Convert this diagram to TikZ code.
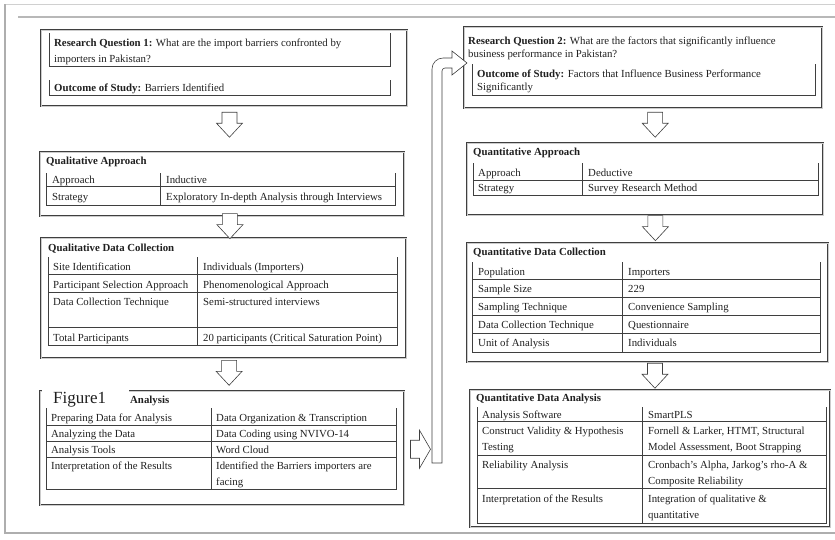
\documentclass[tikz,border=0pt]{standalone}
\usepackage{fontspec}
\setmainfont{Liberation Serif}
\usetikzlibrary{calc,positioning}
\definecolor{Ink}{HTML}{1F1F1F}
\definecolor{Rule}{HTML}{3F3F3F}
\definecolor{Frame}{HTML}{9A9A9A}
\definecolor{Edge}{HTML}{D0D0D0}
\newcommand{\twoline}[1]{\begin{tabular}[t]{@{}l@{}}#1\end{tabular}}

\begin{document}
\begin{tikzpicture}[x=1pt,y=-1pt,
    font=\fontsize{10.8}{16.5}\selectfont,
    panel/.style={draw=Rule,double=Frame!50,double distance=0.9pt,line width=0.5pt,
      anchor=north west,inner sep=0pt},
    tabline/.style={draw=Rule,line width=0.6pt},
    cell/.style={anchor=base west,inner sep=0pt,text=Ink},
    heading/.style={cell,font=\fontsize{10.8}{16.5}\selectfont\bfseries},
    hollow/.style={draw=Rule,fill=white,line width=0.6pt},
    hollowdown/.pic={\draw[hollow] (-7.5,-12.5) -- (7.5,-12.5) -- (7.5,-1.5) -- (13,-1.5)
      -- (0,12.5) -- (-13,-1.5) -- (-7.5,-1.5) -- cycle;},
    hollowright/.pic={\draw[hollow] (-10,-9) -- (-1,-9) -- (-1,-19) -- (10,0)
      -- (-1,19) -- (-1,9) -- (-10,9) -- cycle;}
  ]
  \useasboundingbox (0,0) rectangle (835,539);
  % page frame
  \draw[Edge,line width=0.8pt] (5,4) -- (835,4);
  \draw[Frame!70,line width=1.6pt] (18,17) -- (835,17);
  \draw[Frame!80,line width=1.2pt] (5,4) -- (5,533) -- (835,533);

  % qualitative column
  \node[panel,minimum width=366pt,minimum height=76pt] (l1) at (41,30) {};
  \node[panel,minimum width=364pt,minimum height=64pt] (l2) at (40,152) {};
  \node[panel,minimum width=365pt,minimum height=120pt] (l3) at (41,238) {};
  \node[panel,minimum width=364pt,minimum height=114pt] (l4) at (40,391) {};

  \draw[tabline] (49,33) -- (49,66) -- (390,66) -- (390,33);
  \draw[tabline] (49,80) -- (49,95) -- (390,95) -- (390,80);
  \node[cell] (q1) at (54,46) {\twoline{\textbf{Research Question 1:} What are the import barriers confronted by\\importers in Pakistan?}};
  \node[cell] (o1) at (54,91) {\textbf{Outcome of Study:} Barriers Identified};

  \node[heading] (l2h) at (46,164) {Qualitative Approach};
  \draw[tabline] (46,173) -- (46,205) -- (395,205) -- (395,173) (160,173) -- (160,205) (46,186) -- (395,186);
  \foreach \y/\a/\b in {183/Approach/Inductive,200/Strategy/Exploratory In-depth Analysis through Interviews}{
    \node[cell] (l2a\y) at (52,\y) {\a};
    \node[cell] (l2b\y) at (166,\y) {\b};
  }

  \node[heading] (l3h) at (48,251) {Qualitative Data Collection};
  \draw[tabline] (48,257) -- (48,345) -- (397,345) -- (397,257) (197,257) -- (197,345);
  \foreach \y in {274,292,327}\draw[tabline] (48,\y) -- (397,\y);
  \foreach \y/\a/\b in {270/Site Identification/Individuals (Importers),
      288/Participant Selection Approach/Phenomenological Approach,
      305/Data Collection Technique/Semi-structured interviews,
      341/Total Participants/20 participants (Critical Saturation Point)}{
    \node[cell] (l3a\y) at (53,\y) {\a};
    \node[cell] (l3b\y) at (203,\y) {\b};
  }

  \node[fill=white,anchor=north west,inner sep=0pt,minimum width=87pt,minimum height=22pt] (cover) at (42,385) {};
  \node[cell,font=\fontsize{17}{17}\selectfont] (fig) at (53,403) {Figure1};
  \node[heading] (l4h) at (130,403) {Analysis};
  \draw[tabline] (46,408) -- (46,489) -- (396,489) -- (396,408) (211,408) -- (211,489);
  \foreach \y in {425,441,457}\draw[tabline] (46,\y) -- (396,\y);
  \foreach \y/\a/\b in {421/Preparing Data for Analysis/Data Organization \& Transcription,
      437/Analyzing the Data/Data Coding using NVIVO-14,
      453/Analysis Tools/Word Cloud,
      469/Interpretation of the Results/{\twoline{Identified the Barriers importers are\\facing}}}{
    \node[cell] (l4a\y) at (51,\y) {\a};
    \node[cell] (l4b\y) at (216,\y) {\b};
  }

  % quantitative column
  \node[panel,minimum width=358pt,minimum height=81pt] (r1) at (464,27) {};
  \node[panel,minimum width=356pt,minimum height=72pt] (r2) at (467,143) {};
  \node[panel,minimum width=361pt,minimum height=119pt] (r3) at (467,243) {};
  \node[panel,minimum width=360pt,minimum height=137pt] (r4) at (470,390) {};

  \node[cell] (q2) at (468,44) {\twoline{\textbf{Research Question 2:} What are the factors that significantly influence\\[-3pt]business performance in Pakistan?}};
  \draw[tabline] (472,64) -- (472,95) -- (815,95) -- (815,64);
  \node[cell] (o2) at (477,77) {\twoline{\textbf{Outcome of Study:} Factors that Influence Business Performance\\[-3pt]Significantly}};

  \node[heading] (r2h) at (473,155) {Quantitative Approach};
  \draw[tabline] (473,163) -- (473,195) -- (818,195) -- (818,163) (582,163) -- (582,195) (473,180) -- (818,180);
  \foreach \y/\a/\b in {176/Approach/Deductive,191/Strategy/Survey Research Method}{
    \node[cell] (r2a\y) at (478,\y) {\a};
    \node[cell] (r2b\y) at (588,\y) {\b};
  }

  \node[heading] (r3h) at (473,255) {Quantitative Data Collection};
  \draw[tabline] (472,262) -- (472,352) -- (820,352) -- (820,262) (622,262) -- (622,352);
  \foreach \y in {279,297,315,333}\draw[tabline] (472,\y) -- (820,\y);
  \foreach \y/\a/\b in {275/Population/Importers,292/Sample Size/229,
      310/Sampling Technique/Convenience Sampling,
      328/Data Collection Technique/Questionnaire,346/Unit of Analysis/Individuals}{
    \node[cell] (r3a\y) at (478,\y) {\a};
    \node[cell] (r3b\y) at (628,\y) {\b};
  }

  \node[heading] (r4h) at (476,401) {Quantitative Data Analysis};
  \draw[tabline] (477,407) -- (477,523) -- (826,523) -- (826,407) (642,407) -- (642,523);
  \foreach \y in {421,455,488}\draw[tabline] (477,\y) -- (826,\y);
  \foreach \y/\a/\b in {418/Analysis Software/SmartPLS,
      434/{\twoline{Construct Validity \& Hypothesis\\Testing}}/{\twoline{Fornell \& Larker, HTMT, Structural\\Model Assessment, Boot Strapping}},
      468/Reliability Analysis/{\twoline{Cronbach's Alpha, Jarkog's rho-A \&\\Composite Reliability}},
      502/Interpretation of the Results/{\twoline{Integration of qualitative \&\\quantitative}}}{
    \node[cell] (r4a\y) at (482,\y) {\a};
    \node[cell] (r4b\y) at (648,\y) {\b};
  }

  % hollow arrows
  \pic (a1) at ($(l1.south)!.4!(l2.north)+(6,0)$) {hollowdown};
  \pic (a2) at ($(l2.south)!.45!(l3.north)+(7,0)$) {hollowdown};
  \pic (a3) at ($(l3.south)!.44!(l4.north)+(6,0)$) {hollowdown};
  \pic (b1) at ($(r1.south)!.47!(r2.north)+(11,0)$) {hollowdown};
  \pic (b2) at ($(r2.south)!.46!(r3.north)+(9,0)$) {hollowdown};
  \pic (b3) at ($(r3.south)!.48!(r4.north)+(6,0)$) {hollowdown};
  \pic (a4) at ($(l4.east)+(16,1)$) {hollowright};
  \coordinate (loopfoot) at (437,463);
  \coordinate (looptip) at ($(r1.north west)+(3,36)$);
  \draw[hollow] (loopfoot) ++(-5,0) [rounded corners=11pt] -- (432,58) [sharp corners] -- (452,58)
    -- (452,51) -- (looptip) -- (452,75) -- (452,68) [rounded corners=3pt] -- (442,68)
    [sharp corners] -- (442,463) -- cycle;
\end{tikzpicture}
\end{document}
